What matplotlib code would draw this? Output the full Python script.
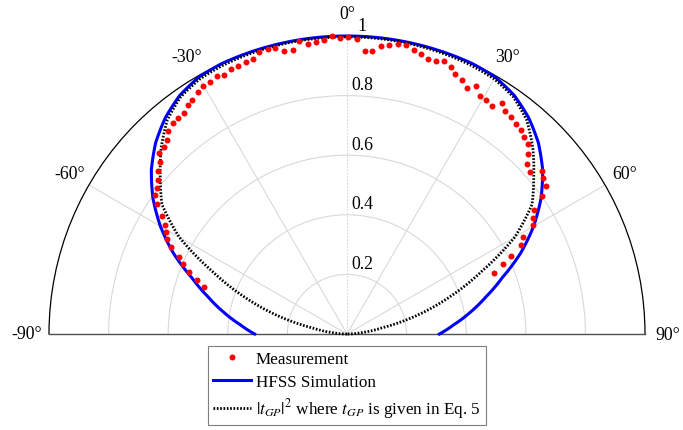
import numpy as np
import matplotlib
matplotlib.use('Agg')
import matplotlib.pyplot as plt

plt.rcParams['font.family'] = ['Liberation Serif', 'DejaVu Serif']
plt.rcParams['mathtext.fontset'] = 'stix'

# ---------------- data ----------------
meas_theta_deg = [-71.7, -70.1, -68.6, -67.0, -65.4, -63.7, -62.2, -60.7, -59.1, -57.4,
                  -55.7, -54.1, -52.6, -50.9, -49.3, -47.4, -46.1, -44.4, -42.9, -41.3,
                  -39.6, -38.1, -36.5, -34.9, -33.4, -31.6, -30.1, -28.5, -26.8, -25.4,
                  -23.6, -22.1, -20.4, -18.8, -17.3, -15.6, -14.1, -12.5, -10.8, -9.3,
                  -7.7, -6.1, -4.4, -2.8, -1.35, 0.2, 1.9, 3.6, 5.1, 6.7,
                  8.3, 10.0, 11.5, 13.2, 14.7, 16.5, 18.0, 19.5, 21.2, 22.6,
                  24.4, 26.0, 27.5, 29.2, 30.7, 32.5, 33.9, 35.4, 37.1, 38.7,
                  40.4, 42.0, 43.5, 45.2, 46.7, 48.4, 50.0, 51.6, 53.3, 54.7,
                  56.5, 58.0, 59.7, 61.3, 62.8, 64.5, 66.0, 67.6]
meas_r = [0.506, 0.536, 0.568, 0.597, 0.619, 0.660, 0.684, 0.697, 0.712, 0.738,
          0.773, 0.795, 0.804, 0.819, 0.837, 0.852, 0.874, 0.880, 0.889, 0.908,
          0.918, 0.920, 0.921, 0.935, 0.942, 0.953, 0.961, 0.962, 0.969, 0.963,
          0.972, 0.971, 0.974, 0.976, 0.991, 0.992, 0.990, 0.972, 0.969, 0.995,
          0.983, 0.985, 0.990, 1.000, 0.995, 0.997, 0.989, 0.952, 0.952, 0.972,
          0.981, 0.989, 0.991, 0.978, 0.973, 0.961, 0.962, 0.972, 0.961, 0.944,
          0.937, 0.920, 0.937, 0.915, 0.912, 0.907, 0.934, 0.918, 0.911, 0.905,
          0.900, 0.888, 0.881, 0.857, 0.832, 0.821, 0.853, 0.841, 0.833, 0.800,
          0.754, 0.737, 0.724, 0.675, 0.656, 0.610, 0.574, 0.535]

curve_theta_deg = [-90, -85, -80, -75, -70, -65, -60, -55, -50, -45, -40, -35, -30,
                   -25, -20, -15, -10, -5, 0, 5, 10, 15, 20, 25, 30, 35, 40, 45,
                   50, 55, 60, 65, 70, 75, 80, 85, 90]
hfss_r = [0.310, 0.360, 0.420, 0.483, 0.555, 0.643, 0.723, 0.795, 0.857, 0.908,
          0.948, 0.978, 0.995, 1.000, 1.000, 1.000, 1.000, 1.000, 1.000, 1.000,
          1.000, 1.000, 1.000, 1.000, 0.995, 0.978, 0.948, 0.908, 0.857, 0.795,
          0.723, 0.643, 0.555, 0.483, 0.420, 0.360, 0.310]
theory_r = [0.000, 0.045, 0.120, 0.245, 0.370, 0.500, 0.650, 0.758, 0.818, 0.882,
            0.938, 0.972, 0.988, 0.993, 0.995, 0.996, 0.997, 0.997, 0.997, 0.997,
            0.997, 0.996, 0.995, 0.993, 0.988, 0.972, 0.938, 0.882, 0.818, 0.758,
            0.650, 0.500, 0.370, 0.245, 0.120, 0.045, 0.000]

r_ticks = [0.2, 0.4, 0.6, 0.8, 1.0]
r_tick_labels = ['0.2', '0.4', '0.6', '0.8', '1']
theta_ticks = [-90, -60, -30, 0, 30, 60, 90]
theta_tick_labels = ['-90°', '-60°', '-30°', '0°', '30°', '60°', '90°']

legend_labels = ['Measurement', 'HFSS Simulation',
                 r'$|t_{GP}|^2$ where $t_{GP}$ is given in Eq. 5']

# ---------------- figure ----------------
W, H = 683, 431
fig = plt.figure(figsize=(W / 100, H / 100), dpi=100)
# square box; the half-disk wedge is centred vertically inside it
ax = fig.add_axes([49 / W, -53 / H, 596 / W, 596 / H], projection='polar')
ax.set_theta_zero_location('N')
ax.set_theta_direction(-1)
ax.set_thetamin(-90)
ax.set_thetamax(90)
ax.set_ylim(0, 1)

ax.set_thetagrids([-60, -30, 0, 30, 60], labels=[''] * 5)
ax.set_rgrids(r_ticks[:-1], labels=[''] * 4)
ax.grid(True, color='#d9d9d9', linewidth=0.8)
ax.xaxis.get_gridlines()[2].set_linestyle((0, (1.5, 1.5)))
ax.tick_params(length=0)

ax.spines['polar'].set_color('black')
ax.spines['polar'].set_linewidth(0.9)
for s in ('start', 'end'):
    ax.spines[s].set_color('#505050')
    ax.spines[s].set_linewidth(1.0)

# series
h_meas, = ax.plot(np.deg2rad(meas_theta_deg), meas_r, linestyle='none', marker='o',
                  markersize=4.3, color='#ff0000', markeredgewidth=0, clip_on=False,
                  zorder=5)
h_sim, = ax.plot(np.deg2rad(curve_theta_deg), hfss_r, color='#0000ff', linewidth=2.2,
                 clip_on=False, zorder=3)
h_th, = ax.plot(np.deg2rad(curve_theta_deg), theory_r, color='black', linewidth=2.0,
                linestyle=(0, (0.6, 0.6)), clip_on=False, zorder=4)
# let the polar transform draw each segment as a curve in (theta, r)
for ln in (h_sim, h_th):
    ln.get_path()._interpolation_steps = 20

# tick labels
for t, lab in zip(theta_ticks, theta_tick_labels):
    ax.text(np.deg2rad(t), 1.075, lab, ha='center', va='center', fontsize=12.8)
for r, lab in zip(r_ticks, r_tick_labels):
    ax.annotate(lab, xy=(0, r), xytext=(15, 11), textcoords='offset pixels',
                ha='center', va='center', fontsize=12.8)

leg = fig.legend([h_meas, h_sim, h_th], legend_labels, loc='upper left',
                 bbox_to_anchor=(208 / W, 1 - 347 / H), frameon=True, fancybox=False,
                 edgecolor='#7f7f7f', framealpha=1, borderpad=0.3, labelspacing=0.38,
                 handlelength=2.2, handletextpad=0.3, borderaxespad=0, fontsize=12.3)
leg.get_frame().set_linewidth(0.8)

fig.savefig('out.png', dpi=100)
